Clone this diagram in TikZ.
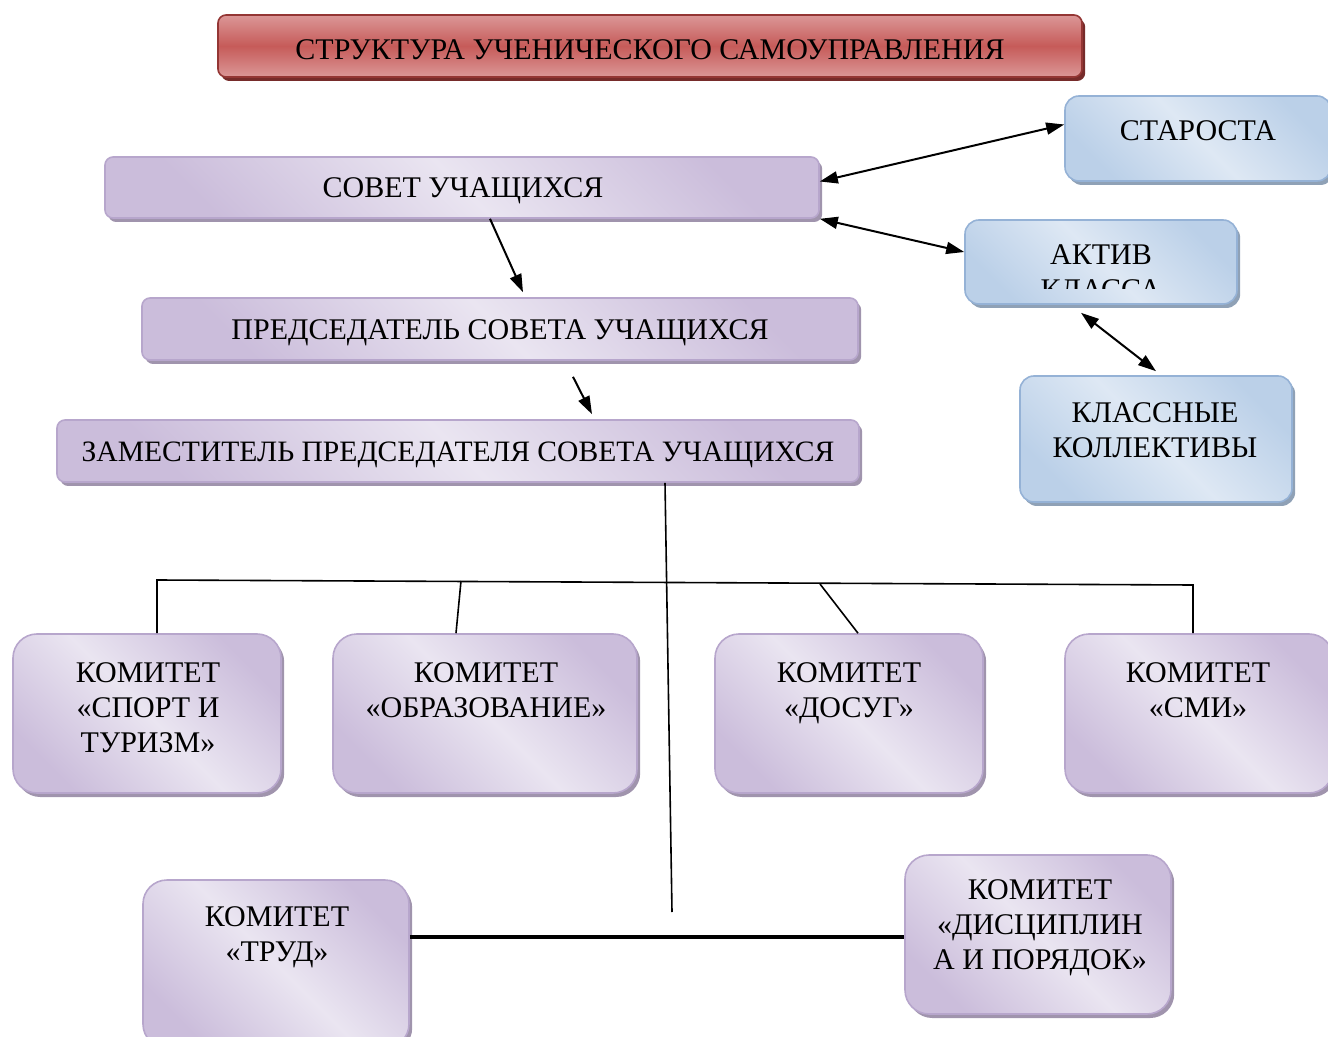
\documentclass[tikz,border=0pt]{standalone}
\usepackage{fontspec}
\setmainfont{Liberation Serif}
\usetikzlibrary{arrows.meta, positioning, shadows}

\definecolor{plight}{HTML}{EAE5F1}
\definecolor{pdark}{HTML}{CBBDDB}
\definecolor{pborder}{HTML}{B7A6CC}
\definecolor{pshadow}{HTML}{A094AD}
\definecolor{blight}{HTML}{DEE8F4}
\definecolor{bdark}{HTML}{BBD0E8}
\definecolor{bborder}{HTML}{95B2D6}
\definecolor{bshadow}{HTML}{8FA1B6}
\definecolor{rlight}{HTML}{DB9797}
\definecolor{rdark}{HTML}{C65B59}
\definecolor{rborder}{HTML}{943634}
\definecolor{rshadow}{HTML}{762B2A}

\begin{document}
\begin{tikzpicture}[x=0.5pt, y=-0.5pt,
    pbox/.style={draw=pborder, line width=0.8pt, rounded corners=4pt,
        left color=pdark, right color=pdark, middle color=plight, shading angle=135,
        drop shadow={shadow xshift=1.6pt, shadow yshift=-2pt, fill=pshadow, opacity=1}},
    kbox/.style={pbox, rounded corners=12pt},
    bbox/.style={draw=bborder, line width=0.8pt, rounded corners=7pt,
        left color=bdark, right color=bdark, middle color=blight, shading angle=135,
        drop shadow={shadow xshift=1.6pt, shadow yshift=-2pt, fill=bshadow, opacity=1}},
    rbox/.style={draw=rborder, line width=0.8pt, rounded corners=4pt,
        top color=rlight, bottom color=rlight, middle color=rdark,
        drop shadow={shadow xshift=1.6pt, shadow yshift=-2pt, fill=rshadow, opacity=1}},
    txt/.style={align=center, inner sep=0pt, font=\fontsize{15}{17.5}\selectfont},
    arrow/.style={-{Triangle[length=9pt, width=6pt]}, line width=1pt},
    twoway/.style={{Triangle[length=9pt, width=6pt]}-{Triangle[length=9pt, width=6pt]}, line width=1pt},
    branch/.style={line width=0.8pt},
    bar/.style={line width=2pt}]

    \clip (0,0) rectangle (1328,1037);

    % Title
    \node[rbox, minimum width=432pt, minimum height=31pt] (title) at (650,46) {};
    \node[txt] (titletext) at (650,50) {СТРУКТУРА УЧЕНИЧЕСКОГО САМОУПРАВЛЕНИЯ};

    % Council chain
    \node[pbox, minimum width=357pt, minimum height=30.5pt] (sovet) at (462,187.5) {};
    \node[txt] (sovettext) at (463,191) {СОВЕТ УЧАЩИХСЯ};
    \node[pbox, minimum width=358pt, minimum height=31pt] (pred) at (500,329) {};
    \node[txt] (predtext) at (500,333) {ПРЕДСЕДАТЕЛЬ СОВЕТА УЧАЩИХСЯ};
    \node[pbox, minimum width=401pt, minimum height=31pt] (zam) at (458,451) {};
    \node[txt, font=\fontsize{14.8}{17.5}\selectfont] (zamtext) at (458,455) {ЗАМЕСТИТЕЛЬ ПРЕДСЕДАТЕЛЯ СОВЕТА УЧАЩИХСЯ};

    % Right column
    \node[bbox, minimum width=133pt, minimum height=42.5pt] (starosta) at (1198,138.5) {};
    \node[txt] (starostatext) at (1198,131) {СТАРОСТА};
    \node[bbox, minimum width=136pt, minimum height=42pt] (aktiv) at (1101,262) {};
    \begin{scope}
        \clip (960,215) rectangle (1240,289);
        \node[txt] (aktivtext) at (1101,272.5) {АКТИВ\\КЛАССА};
    \end{scope}
    \node[bbox, minimum width=136pt, minimum height=63pt] (klass) at (1156,439) {};
    \node[txt] (klasstext) at (1155,430) {КЛАССНЫЕ\\КОЛЛЕКТИВЫ};

    % Committees
    \node[kbox, minimum width=134pt, minimum height=79.5pt] (sport) at (147,713.5) {};
    \node[txt] (sporttext) at (148,708) {КОМИТЕТ\\«СПОРТ И\\ТУРИЗМ»};
    \node[kbox, minimum width=152pt, minimum height=79.5pt] (obraz) at (485,713.5) {};
    \node[txt] (obraztext) at (486,690.5) {КОМИТЕТ\\«ОБРАЗОВАНИЕ»};
    \node[kbox, minimum width=134pt, minimum height=79.5pt] (dosug) at (849,713.5) {};
    \node[txt] (dosugtext) at (849,693) {КОМИТЕТ\\«ДОСУГ»};
    \node[kbox, minimum width=134pt, minimum height=79.5pt] (smi) at (1199,713.5) {};
    \node[txt] (smitext) at (1198,690.5) {КОМИТЕТ\\«СМИ»};
    \node[kbox, minimum width=133pt, minimum height=84pt] (trud) at (276,964) {};
    \node[txt] (trudtext) at (277,937) {КОМИТЕТ\\«ТРУД»};
    \node[kbox, minimum width=133pt, minimum height=79.5pt] (disc) at (1038,934.5) {};
    \node[txt] (disctext) at (1040,928) {КОМИТЕТ\\«ДИСЦИПЛИН\\А И ПОРЯДОК»};

    % Arrows
    \draw[arrow] ([xshift=14pt]sovet.south) -- ([xshift=11.5pt, yshift=2.5pt]pred.north);
    \draw[arrow] ([xshift=36.5pt, yshift=-8pt]pred.south) -- ([xshift=67pt, yshift=2.5pt]zam.north);
    \draw[twoway] ([yshift=3pt]sovet.east) -- ([yshift=7pt]starosta.west);
    \draw[twoway] (sovet.south east) -- ([yshift=5pt]aktiv.west);
    \draw[twoway] ([xshift=-10pt, yshift=-4pt]aktiv.south) -- ([yshift=2pt]klass.north);

    % Tree
    \coordinate (trunk) at (672,912);
    \coordinate (busL) at (157,580);
    \coordinate (busR) at (1193,585);
    \coordinate (b2) at (461,581);
    \coordinate (b3) at (820,584);
    \coordinate (hlev) at (0,937);
    \draw[branch] ([xshift=103.5pt]zam.south) -- (trunk);
    \draw[branch] (busL |- sport.north) -- (busL) -- (busR) -- (busR |- smi.north);
    \draw[branch] (b2) -- ([xshift=-14.5pt]obraz.north);
    \draw[branch] (b3) -- ([xshift=4.5pt]dosug.north);
    \draw[bar] (trud.east |- hlev) -- (disc.west |- hlev);
\end{tikzpicture}
\end{document}
